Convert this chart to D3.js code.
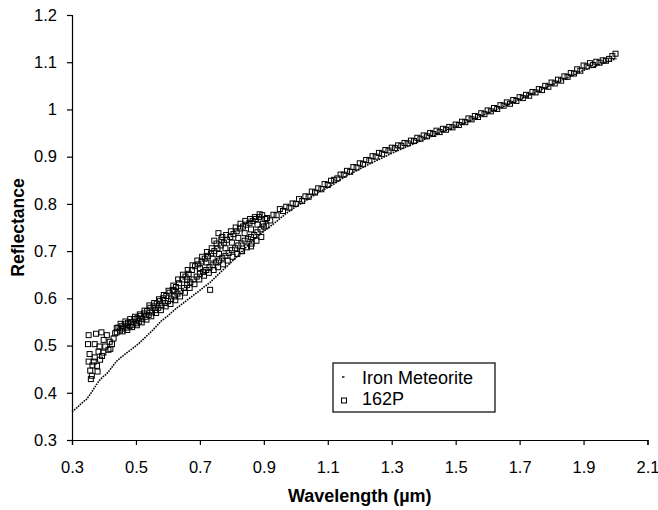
<!DOCTYPE html>
<html>
<head>
<meta charset="utf-8">
<script src="https://cdn.jsdelivr.net/npm/d3@7"></script>
<style>
  body { margin: 0; background: #fff; }
  svg { font-family: "Liberation Sans", Arial, sans-serif; }
</style>
</head>
<body>
<script>
// axis ticks
var xTicks = [0.3, 0.5, 0.7, 0.9, 1.1, 1.3, 1.5, 1.7, 1.9, 2.1];
var yTicks = [0.3, 0.4, 0.5, 0.6, 0.7, 0.8, 0.9, 1.0, 1.1, 1.2];

// Iron Meteorite spectrum [wavelength, reflectance]
var ironMeteorite = [
  [0.300, 0.360], [0.315, 0.368], [0.330, 0.378], [0.345, 0.386], [0.355, 0.395],
  [0.366, 0.406], [0.376, 0.417], [0.387, 0.427], [0.397, 0.434], [0.408, 0.440],
  [0.418, 0.448], [0.428, 0.457], [0.438, 0.466], [0.455, 0.476], [0.470, 0.484],
  [0.490, 0.494], [0.510, 0.505], [0.530, 0.518], [0.553, 0.533], [0.579, 0.552],
  [0.600, 0.563], [0.625, 0.578], [0.650, 0.591], [0.675, 0.604], [0.700, 0.617],
  [0.732, 0.634], [0.755, 0.649], [0.780, 0.665], [0.805, 0.681], [0.830, 0.698],
  [0.850, 0.712], [0.870, 0.725], [0.890, 0.737], [0.914, 0.749], [0.940, 0.763],
  [0.970, 0.780], [1.000, 0.794], [1.034, 0.808], [1.070, 0.824], [1.117, 0.841],
  [1.150, 0.856], [1.200, 0.874], [1.250, 0.891], [1.300, 0.907], [1.350, 0.922],
  [1.400, 0.936], [1.450, 0.950], [1.500, 0.963], [1.550, 0.977], [1.600, 0.992],
  [1.650, 1.006], [1.700, 1.021], [1.750, 1.036], [1.800, 1.052], [1.850, 1.067],
  [1.900, 1.083], [1.950, 1.095], [2.003, 1.108]
];

// 162P spectrum [wavelength, reflectance]
var comet162P = [
  // blue end, scattered
  [0.352, 0.522], [0.375, 0.525], [0.392, 0.528], [0.350, 0.503], [0.371, 0.503],
  [0.355, 0.482], [0.352, 0.466], [0.357, 0.447], [0.359, 0.429], [0.362, 0.436],
  [0.368, 0.466], [0.371, 0.475], [0.378, 0.457], [0.383, 0.487], [0.388, 0.470],
  [0.394, 0.478], [0.386, 0.498], [0.399, 0.512], [0.404, 0.498], [0.409, 0.522],
  [0.414, 0.491], [0.420, 0.493], [0.425, 0.503], [0.430, 0.515], [0.435, 0.526],
  [0.440, 0.537], [0.364, 0.458], [0.380, 0.445], [0.398, 0.485], [0.418, 0.508],
  // dense band
  [0.440, 0.528], [0.445, 0.538], [0.450, 0.532], [0.455, 0.541], [0.460, 0.536],
  [0.465, 0.545], [0.470, 0.538], [0.475, 0.548], [0.480, 0.541], [0.485, 0.550],
  [0.490, 0.544], [0.495, 0.556], [0.500, 0.547], [0.505, 0.558], [0.510, 0.551],
  [0.515, 0.563], [0.520, 0.556], [0.525, 0.568], [0.530, 0.561], [0.535, 0.573],
  [0.540, 0.565], [0.545, 0.580], [0.550, 0.570], [0.555, 0.583], [0.560, 0.575],
  [0.565, 0.589], [0.570, 0.580], [0.575, 0.594], [0.580, 0.585], [0.585, 0.600],
  [0.590, 0.590], [0.595, 0.605], [0.600, 0.594], [0.605, 0.612], [0.610, 0.598],
  [0.615, 0.618], [0.620, 0.604], [0.625, 0.624], [0.630, 0.610], [0.635, 0.632],
  [0.640, 0.616], [0.645, 0.640], [0.650, 0.622], [0.655, 0.646], [0.660, 0.628],
  [0.665, 0.652], [0.670, 0.634], [0.675, 0.660], [0.680, 0.640], [0.685, 0.668],
  [0.690, 0.646], [0.695, 0.672], [0.700, 0.652], [0.705, 0.678], [0.710, 0.656],
  [0.715, 0.684], [0.720, 0.660], [0.725, 0.690], [0.730, 0.666], [0.735, 0.695],
  [0.740, 0.670], [0.745, 0.700], [0.750, 0.676], [0.755, 0.706], [0.760, 0.680],
  [0.765, 0.712], [0.770, 0.686], [0.775, 0.718], [0.780, 0.690], [0.785, 0.724],
  [0.790, 0.696], [0.795, 0.730], [0.800, 0.702], [0.805, 0.736], [0.810, 0.706],
  [0.815, 0.742], [0.820, 0.712], [0.825, 0.748], [0.830, 0.716], [0.835, 0.752],
  [0.840, 0.722], [0.845, 0.756], [0.850, 0.726], [0.855, 0.760], [0.860, 0.730],
  [0.865, 0.764], [0.870, 0.734], [0.875, 0.768], [0.880, 0.740], [0.885, 0.772],
  [0.890, 0.746], [0.895, 0.776], [0.900, 0.752],
  [0.620, 0.616], [0.660, 0.640], [0.700, 0.664], [0.740, 0.684], [0.780, 0.706],
  [0.820, 0.728], [0.860, 0.746], [0.880, 0.756], [0.720, 0.676], [0.760, 0.694],
  [0.800, 0.718], [0.840, 0.738], [0.758, 0.738], [0.732, 0.618], [0.745, 0.722],
  [0.770, 0.730], [0.860, 0.710], [0.830, 0.700],
  [0.452, 0.546], [0.458, 0.530], [0.467, 0.551], [0.473, 0.533], [0.482, 0.556],
  [0.488, 0.539], [0.497, 0.561], [0.503, 0.543], [0.512, 0.566], [0.518, 0.549],
  [0.527, 0.574], [0.533, 0.555], [0.542, 0.585], [0.548, 0.562], [0.557, 0.590],
  [0.563, 0.569], [0.572, 0.598], [0.578, 0.575], [0.587, 0.607], [0.593, 0.583],
  [0.602, 0.616], [0.608, 0.588], [0.617, 0.627], [0.623, 0.596], [0.632, 0.640],
  [0.638, 0.604], [0.647, 0.650], [0.653, 0.612], [0.662, 0.660], [0.668, 0.622],
  [0.677, 0.670], [0.683, 0.630], [0.692, 0.680], [0.698, 0.640], [0.707, 0.688],
  [0.713, 0.648], [0.722, 0.698], [0.728, 0.654], [0.737, 0.706], [0.743, 0.660],
  [0.752, 0.716], [0.757, 0.666], [0.767, 0.724], [0.772, 0.672], [0.782, 0.734],
  [0.787, 0.680], [0.797, 0.742], [0.802, 0.688], [0.812, 0.750], [0.817, 0.694],
  [0.827, 0.758], [0.832, 0.700], [0.842, 0.764], [0.847, 0.708], [0.857, 0.768],
  [0.862, 0.716], [0.872, 0.772], [0.877, 0.722], [0.887, 0.778], [0.892, 0.730],
  [0.897, 0.758], [0.905, 0.768], [0.908, 0.754],
  // red end, smooth
  [0.91, 0.770], [0.92, 0.765], [0.93, 0.777], [0.94, 0.776], [0.95, 0.789],
  [0.96, 0.785], [0.97, 0.794], [0.98, 0.792], [0.99, 0.801], [1.00, 0.800],
  [1.01, 0.810], [1.02, 0.806], [1.03, 0.816], [1.04, 0.815], [1.05, 0.826],
  [1.06, 0.824], [1.07, 0.833], [1.08, 0.831], [1.09, 0.842], [1.10, 0.840],
  [1.11, 0.849], [1.12, 0.851], [1.13, 0.854], [1.14, 0.862], [1.15, 0.862],
  [1.16, 0.870], [1.17, 0.868], [1.18, 0.878], [1.19, 0.877], [1.20, 0.886],
  [1.21, 0.884], [1.22, 0.893], [1.23, 0.892], [1.24, 0.901], [1.25, 0.900],
  [1.26, 0.908], [1.27, 0.906], [1.28, 0.914], [1.29, 0.913], [1.30, 0.919],
  [1.31, 0.918], [1.32, 0.924], [1.33, 0.923], [1.34, 0.929], [1.35, 0.928],
  [1.36, 0.934], [1.37, 0.933], [1.38, 0.940], [1.39, 0.938], [1.40, 0.945],
  [1.41, 0.943], [1.42, 0.950], [1.43, 0.948], [1.44, 0.955], [1.45, 0.952],
  [1.46, 0.959], [1.47, 0.957], [1.48, 0.963], [1.49, 0.962], [1.50, 0.968],
  [1.51, 0.967], [1.52, 0.974], [1.53, 0.973], [1.54, 0.981], [1.55, 0.979],
  [1.56, 0.986], [1.57, 0.984], [1.58, 0.992], [1.59, 0.990], [1.60, 0.998],
  [1.61, 0.996], [1.62, 1.003], [1.63, 1.001], [1.64, 1.009], [1.65, 1.008],
  [1.66, 1.015], [1.67, 1.012], [1.68, 1.020], [1.69, 1.018], [1.70, 1.026],
  [1.71, 1.024], [1.72, 1.031], [1.73, 1.029], [1.74, 1.037], [1.75, 1.036],
  [1.76, 1.043], [1.77, 1.041], [1.78, 1.050], [1.79, 1.048], [1.80, 1.057],
  [1.81, 1.055], [1.82, 1.063], [1.83, 1.061], [1.84, 1.070], [1.85, 1.069],
  [1.86, 1.077], [1.87, 1.076], [1.88, 1.085], [1.89, 1.082], [1.90, 1.093],
  [1.91, 1.091], [1.92, 1.098], [1.93, 1.094], [1.94, 1.101], [1.95, 1.099],
  [1.96, 1.104], [1.97, 1.103], [1.98, 1.107], [1.99, 1.113], [2.00, 1.118]
];

var legendLabels = ["Iron Meteorite", "162P"];

var svgWidth = 658, svgHeight = 510;
var margin = { top: 15, right: 10, bottom: 70, left: 72 };
var width = 647.5 - margin.left,
  height = 440 - margin.top;

var svg = d3.select("body").append("svg")
  .attr("width", svgWidth)
  .attr("height", svgHeight);

var chart = svg.append("g")
  .attr("transform", "translate(" + margin.left + "," + margin.top + ")");

var x = d3.scaleLinear().domain([0.3, 2.1]).range([0, width]);
var y = d3.scaleLinear().domain([0.3, 1.2]).range([height, 0]);

// axes
var xAxis = chart.append("g")
  .attr("transform", "translate(0," + height + ")")
  .call(d3.axisBottom(x).tickValues(xTicks).tickSize(5).tickPadding(16)
    .tickFormat(function (d) { return d3.format(".1f")(d); }));

var yAxis = chart.append("g")
  .call(d3.axisLeft(y).tickValues(yTicks).tickSize(5).tickPadding(10)
    .tickFormat(function (d) { return (+d.toFixed(1)).toString(); }));

[xAxis, yAxis].forEach(function (a) {
  a.select(".domain").attr("stroke", "#000").attr("stroke-width", 1.2);
  a.selectAll(".tick line").attr("stroke", "#000").attr("stroke-width", 1.2);
  a.selectAll(".tick text")
    .attr("fill", "#000")
    .style("font-size", "16.5px")
    .style("font-family", "Liberation Sans, Arial, sans-serif");
});

// iron meteorite as a dotted trace
var ironLine = d3.line()
  .x(function (d) { return x(d[0]); })
  .y(function (d) { return y(d[1]); });

chart.append("path")
  .datum(ironMeteorite)
  .attr("d", ironLine)
  .attr("fill", "none")
  .attr("stroke", "#000")
  .attr("stroke-width", 1.6)
  .attr("stroke-dasharray", "1.6,1");

// 162P squares
chart.selectAll(".sq")
  .data(comet162P)
  .enter().append("rect")
  .attr("class", "sq")
  .attr("x", function (d) { return x(d[0]) - 2.5; })
  .attr("y", function (d) { return y(d[1]) - 2.5; })
  .attr("width", 5)
  .attr("height", 5)
  .attr("fill", "none")
  .attr("stroke", "#000")
  .attr("stroke-width", 1);

// axis titles
svg.append("text")
  .attr("x", margin.left + width / 2)
  .attr("y", 502)
  .attr("text-anchor", "middle")
  .style("font-weight", "bold")
  .style("font-size", "18px")
  .text("Wavelength (\u00b5m)");

svg.append("text")
  .attr("transform", "translate(24," + (margin.top + height / 2) + ") rotate(-90)")
  .attr("text-anchor", "middle")
  .style("font-weight", "bold")
  .style("font-size", "17.5px")
  .text("Reflectance");

// legend
var legend = svg.append("g").attr("transform", "translate(333,363)");
legend.append("rect")
  .attr("width", 162)
  .attr("height", 49)
  .attr("fill", "#fff")
  .attr("stroke", "#000")
  .attr("stroke-width", 1.2);

legend.append("line")
  .attr("x1", 9).attr("x2", 11.5)
  .attr("y1", 14).attr("y2", 14)
  .attr("stroke", "#000")
  .attr("stroke-width", 1.4);

legend.append("rect")
  .attr("x", 8.5).attr("y", 35)
  .attr("width", 5).attr("height", 5)
  .attr("fill", "none")
  .attr("stroke", "#000")
  .attr("stroke-width", 1);

legend.selectAll(".ltext")
  .data(legendLabels)
  .enter().append("text")
  .attr("class", "ltext")
  .attr("x", 29)
  .attr("y", function (d, i) { return 21 + i * 21; })
  .style("font-size", "18px")
  .text(function (d) { return d; });
</script>
</body>
</html>
